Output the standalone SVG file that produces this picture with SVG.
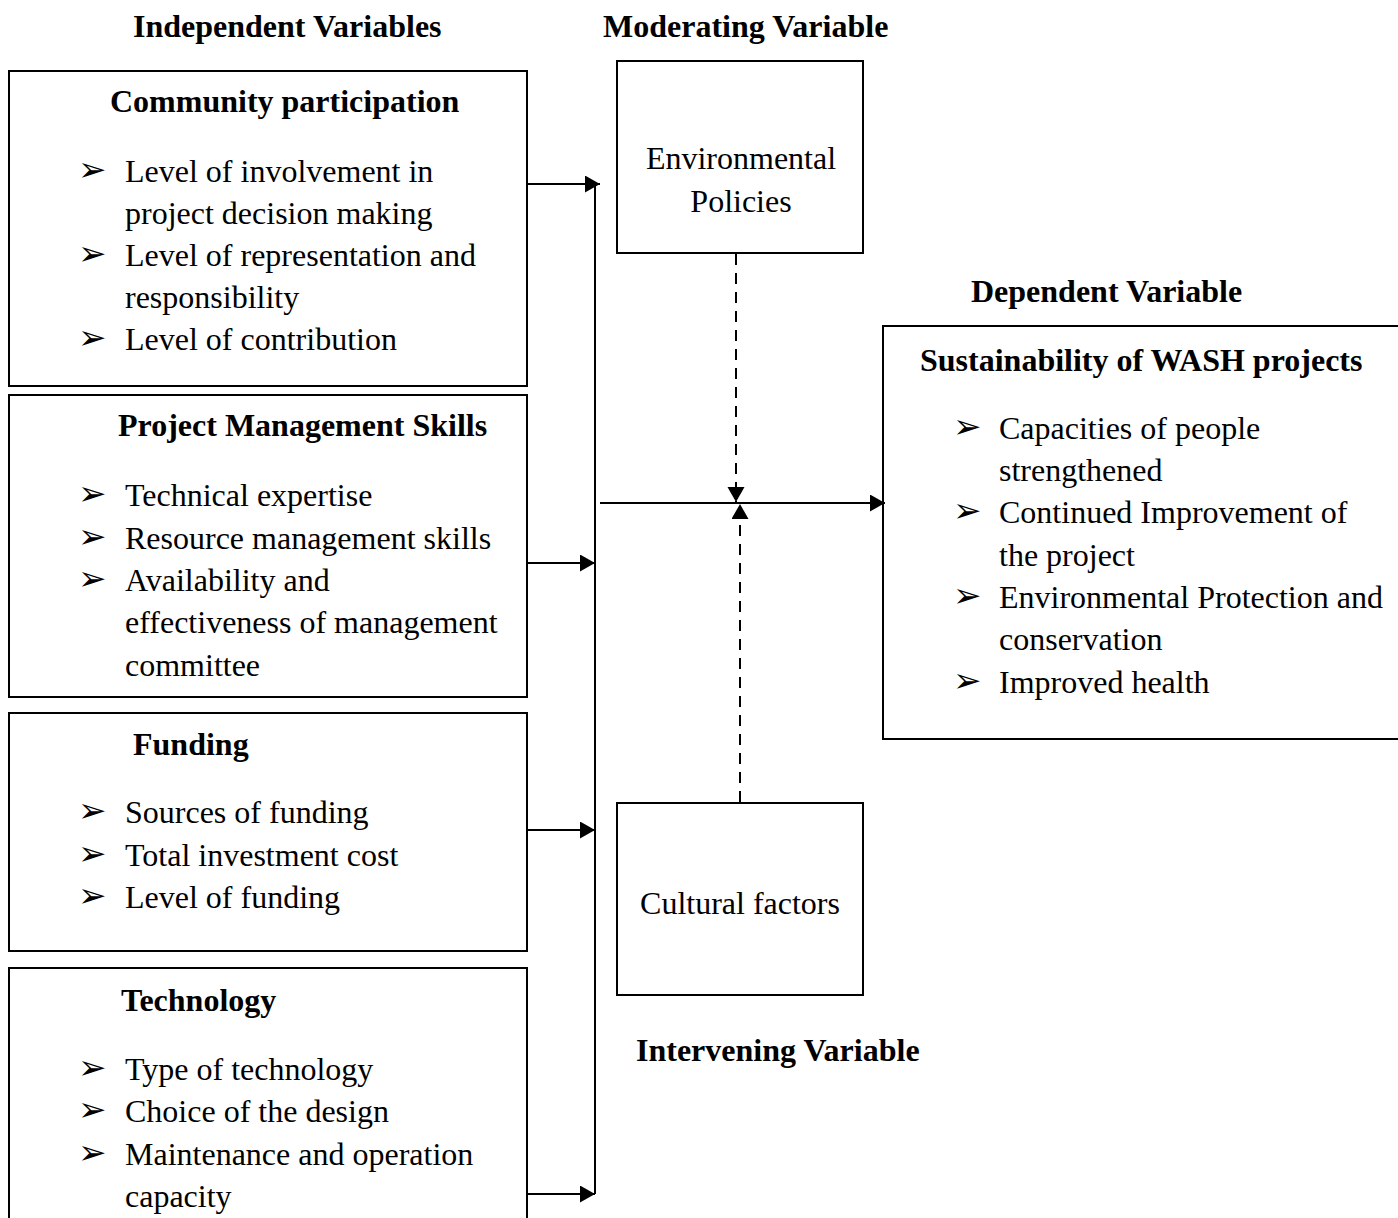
<svg xmlns="http://www.w3.org/2000/svg" width="1398" height="1218" viewBox="0 0 1398 1218">
<style>
text{font-family:"Liberation Serif","Times New Roman",serif;font-size:32px;fill:#000}
.b{font-weight:bold}
.bul{font-family:"DejaVu Sans",sans-serif;font-size:34px}
.box{fill:#fff;stroke:#000;stroke-width:2}
.ln{stroke:#000;stroke-width:2;fill:none}
.dash{stroke:#000;stroke-width:2;fill:none;stroke-dasharray:11 8}
</style>
<defs>
<marker id="ah" markerUnits="userSpaceOnUse" markerWidth="16" markerHeight="18" refX="15" refY="8.5" orient="auto">
<path d="M0,0 L15,8.5 L0,17 Z" fill="#000"/>
</marker>
</defs>
<rect width="1398" height="1218" fill="#fff"/>
<text class="b" x="133" y="37">Independent Variables</text>
<text class="b" x="603" y="37">Moderating Variable</text>
<text class="b" x="971" y="302">Dependent Variable</text>
<text class="b" x="636" y="1061">Intervening Variable</text>

<g id="community">
<rect class="box" x="9" y="71" width="518" height="315"/>
<text class="b" x="110" y="112">Community participation</text>
<text class="bul" x="78" y="181">➢</text><text x="125" y="182">Level of involvement in</text>
<text x="125" y="224">project decision making</text>
<text class="bul" x="78" y="265">➢</text><text x="125" y="266">Level of representation and</text>
<text x="125" y="308">responsibility</text>
<text class="bul" x="78" y="349">➢</text><text x="125" y="350">Level of contribution</text>
</g>
<g id="pms">
<rect class="box" x="9" y="395" width="518" height="302"/>
<text class="b" x="118" y="436">Project Management Skills</text>
<text class="bul" x="78" y="505">➢</text><text x="125" y="506">Technical expertise</text>
<text class="bul" x="78" y="548">➢</text><text x="125" y="549">Resource management skills</text>
<text class="bul" x="78" y="590">➢</text><text x="125" y="591">Availability and</text>
<text x="125" y="633">effectiveness of management</text>
<text x="125" y="676">committee</text>
</g>
<g id="funding">
<rect class="box" x="9" y="713" width="518" height="238"/>
<text class="b" x="133" y="755">Funding</text>
<text class="bul" x="78" y="822">➢</text><text x="125" y="823">Sources of funding</text>
<text class="bul" x="78" y="865">➢</text><text x="125" y="866">Total investment cost</text>
<text class="bul" x="78" y="907">➢</text><text x="125" y="908">Level of funding</text>
</g>
<g id="technology">
<rect class="box" x="9" y="968" width="518" height="270"/>
<text class="b" x="121" y="1011">Technology</text>
<text class="bul" x="78" y="1079">➢</text><text x="125" y="1080">Type of technology</text>
<text class="bul" x="78" y="1121">➢</text><text x="125" y="1122">Choice of the design</text>
<text class="bul" x="78" y="1164">➢</text><text x="125" y="1165">Maintenance and operation</text>
<text x="125" y="1207">capacity</text>
</g>
<g id="env">
<rect class="box" x="617" y="61" width="246" height="192"/>
<text x="741" y="169" text-anchor="middle">Environmental</text>
<text x="741" y="212" text-anchor="middle">Policies</text>
</g>
<g id="cultural">
<rect class="box" x="617" y="803" width="246" height="192"/>
<text x="740" y="914" text-anchor="middle">Cultural factors</text>
</g>
<g id="dependent">
<rect class="box" x="883" y="326" width="530" height="413"/>
<text class="b" x="920" y="371">Sustainability of WASH projects</text>
<text class="bul" x="953" y="438">➢</text><text x="999" y="439">Capacities of people</text>
<text x="999" y="481">strengthened</text>
<text class="bul" x="953" y="522">➢</text><text x="999" y="523">Continued Improvement of</text>
<text x="999" y="566">the project</text>
<text class="bul" x="953" y="607">➢</text><text x="999" y="608">Environmental Protection and</text>
<text x="999" y="650">conservation</text>
<text class="bul" x="953" y="692">➢</text><text x="999" y="693">Improved health</text>
</g>
<g id="connectors">
<line class="ln" x1="595" y1="184" x2="595" y2="1194"/>
<line class="ln" x1="527" y1="184" x2="600" y2="184" marker-end="url(#ah)"/>
<line class="ln" x1="527" y1="563" x2="595" y2="563" marker-end="url(#ah)"/>
<line class="ln" x1="527" y1="830" x2="595" y2="830" marker-end="url(#ah)"/>
<line class="ln" x1="527" y1="1194" x2="595" y2="1194" marker-end="url(#ah)"/>
<line class="ln" x1="600" y1="503" x2="885" y2="503" marker-end="url(#ah)"/>
<line class="dash" x1="736" y1="254" x2="736" y2="502" marker-end="url(#ah)"/>
<line class="dash" x1="740" y1="802" x2="740" y2="504" marker-end="url(#ah)"/>
</g>
</svg>
